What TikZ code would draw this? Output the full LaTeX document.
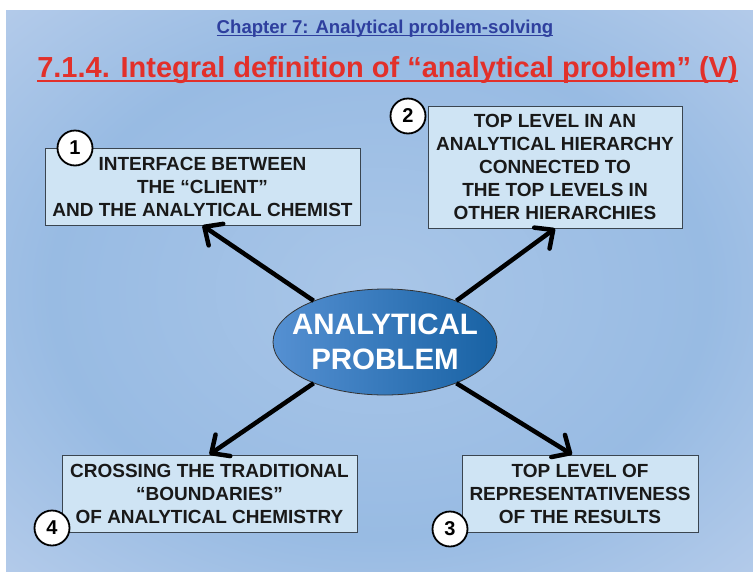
\documentclass[tikz,border=0pt]{standalone}
\usepackage{fontspec}
\setmainfont{Liberation Sans}
\usetikzlibrary{arrows.meta,shapes.geometric}
\definecolor{bgcentre}{HTML}{A9C6E8}
\definecolor{bgring}{HTML}{98BBE3}
\definecolor{bgfade}{HTML}{CCD9F0}
\definecolor{bgedge}{HTML}{F6E7F6}
\definecolor{cardfill}{HTML}{CFE4F4}
\definecolor{cardline}{HTML}{3A4550}
\definecolor{hubleft}{HTML}{5590D2}
\definecolor{hubright}{HTML}{1862A4}
\definecolor{chapterblue}{HTML}{2E3F9E}
\definecolor{titlered}{HTML}{E2302A}
\pgfdeclareradialshading{slidebg}{\pgfpoint{0bp}{0bp}}{color(0bp)=(bgcentre);
  color(22bp)=(bgring); color(48bp)=(bgfade); color(71bp)=(bgedge)}

\begin{document}
\begin{tikzpicture}[x=1pt, y=-1pt,
  card/.style={draw=cardline, line width=1pt, fill=cardfill, align=center,
    inner sep=0pt, font=\fontsize{19}{23}\selectfont\bfseries, text=black!90},
  badge/.style={circle, draw=black, line width=1.8pt, fill=white,
    minimum size=35pt, inner sep=0pt, font=\fontsize{20}{20}\selectfont\bfseries},
  spoke/.style={line width=4.5pt, -{Straight Barb[round,length=14pt,width=26pt]}},
  heading/.style={inner sep=0pt, anchor=base, font=\bfseries},
]
% slide background
\fill[white] (0,0) rectangle (753,571);
\shade[shading=slidebg] (6,10) rectangle (753,571);

\node[heading, text=chapterblue, font=\fontsize{18.6}{18}\selectfont\bfseries]
  (chapter) at (385,33) {Chapter 7: Analytical problem-solving};
\draw[chapterblue, line width=1.3pt] ([yshift=-2.5pt]chapter.base west) -- ([yshift=-2.5pt]chapter.base east);
\node[heading, text=titlered, font=\fontsize{29}{29}\selectfont\bfseries]
  (title) at (387.5,77) {7.1.4. Integral definition of “analytical problem” (V)};
\draw[titlered, line width=2.6pt] ([yshift=-4pt]title.base west) -- ([yshift=-4pt]title.base east);

\node[ellipse, draw=black!80, line width=0.8pt, left color=hubleft, right color=hubright,
  minimum width=224pt, minimum height=106pt, inner sep=0pt, align=center, text=white,
  font=\fontsize{29.5}{35}\selectfont\bfseries] (hub) at (385,342)
  {\makebox[0pt]{ANALYTICAL}\\\makebox[0pt]{PROBLEM}};

\node[card, minimum width=315pt, minimum height=77pt] (client) at (202.5,186.5)
  {INTERFACE BETWEEN\\THE “CLIENT”\\AND THE ANALYTICAL CHEMIST};
\node[card, minimum width=254pt, minimum height=122pt] (hier) at (555,167)
  {TOP LEVEL IN AN\\ANALYTICAL HIERARCHY\\CONNECTED TO\\THE TOP LEVELS IN\\OTHER HIERARCHIES};
\node[card, minimum width=236pt, minimum height=77pt] (repr) at (580,493.5)
  {TOP LEVEL OF\\REPRESENTATIVENESS\\OF THE RESULTS};
\node[card, minimum width=295pt, minimum height=77pt] (cross) at (209.5,493.5)
  {CROSSING THE TRADITIONAL\\“BOUNDARIES”\\OF ANALYTICAL CHEMISTRY};

\node[badge] (n1) at (75,148) {1};
\node[badge] (n2) at (408,116) {2};
\node[badge] (n3) at (450,529) {3};
\node[badge] (n4) at (52,528) {4};

\draw[spoke] (hub.150) -- (client.south);
\draw[spoke] (hub.30) -- (hier.south);
\draw[spoke] (hub.330) -- ([xshift=-8pt]repr.north);
\draw[spoke] (hub.210) -- (cross.north);
\end{tikzpicture}
\end{document}
